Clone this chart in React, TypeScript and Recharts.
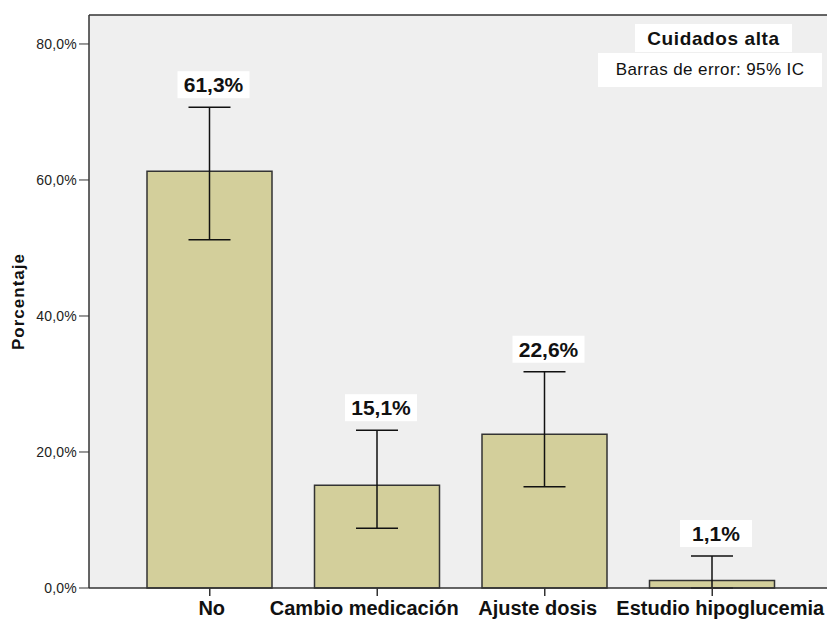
import React from 'react';
import {
  BarChart, Bar, XAxis, YAxis, CartesianGrid, ErrorBar, LabelList, ReferenceLine,
} from 'recharts';

const categories = ['No', 'Cambio medicación', 'Ajuste dosis', 'Estudio hipoglucemia'];
const percentages = [61.3, 15.1, 22.6, 1.1];
const ciLow = [51.2, 8.8, 14.9, 0];
const ciHigh = [70.7, 23.2, 31.8, 4.7];
const yTicks = [0, 20, 40, 60, 80];
const yMax = 84.26;

const data = categories.map((name, i) => ({
  name,
  value: percentages[i],
  err: [percentages[i] - ciLow[i], ciHigh[i] - percentages[i]],
  upper: ciHigh[i],
}));

const font = '"Liberation Sans", Arial, sans-serif';
const fmt = (v: number) => v.toFixed(1).replace('.', ',') + '%';

// small horizontal nudges so the category labels sit like the original
const tickShift = [2, -13, -7, 8];

function CategoryTick(props: any) {
  const { x, y, payload, index } = props;
  return (
    <text x={x + (tickShift[index] || 0)} y={y + 17} textAnchor="middle" fontFamily={font}
      fontWeight="bold" fontSize={20} fill="#111">
      {payload.value}
    </text>
  );
}

function ValueLabel(props: any) {
  const { x, y, width, height, value, index } = props;
  if (!value) return null;
  const perUnit = height / value;
  const base = y + height;
  const top = base - data[index].upper * perUnit;
  const cx = x + width / 2;
  return (
    <g>
      <rect x={cx - 32} y={top - 36} width={72} height={27} fill="#fff" />
      <text x={cx + 4} y={top - 15} textAnchor="middle" fontFamily={font} fontWeight="bold" fontSize={21} fill="#111">
        {fmt(value)}
      </text>
    </g>
  );
}

export default function App() {
  return (
    <div style={{ position: 'relative', width: 827, height: 623, background: '#fff' }}>
      <style>{'body{margin:0}'}</style>
      <BarChart
        width={827}
        height={623}
        data={data}
        margin={{ top: 15, right: 0, bottom: 0, left: 0 }}
        barSize={125}
      >
        <CartesianGrid fill="#efefef" horizontal={false} vertical={false} />
        <XAxis
          dataKey="name"
          height={35}
          padding={{ left: 37, right: 31 }}
          axisLine={{ stroke: '#333', strokeWidth: 1.5 }}
          tickLine={{ stroke: '#333', strokeWidth: 1.5 }}
          tickSize={8}
          tick={<CategoryTick />}
          interval={0}
        />
        <YAxis
          width={89}
          domain={[0, yMax]}
          ticks={yTicks}
          tickFormatter={fmt}
          axisLine={{ stroke: '#333', strokeWidth: 1.5 }}
          tickLine={{ stroke: '#333', strokeWidth: 1 }}
          tickSize={10}
          tick={{ fontFamily: font, fontSize: 14, fill: '#222', letterSpacing: 0.2 }}
          label={{
            value: 'Porcentaje',
            angle: -90,
            position: 'insideLeft',
            offset: 18,
            style: { fontFamily: font, fontWeight: 'bold', fontSize: 17, fill: '#111', textAnchor: 'middle', letterSpacing: 1 },
          }}
        />
        <ReferenceLine y={yMax} stroke="#333" strokeWidth={1.5} />
        <Bar dataKey="value" fill="#d3cf9b" stroke="#333" strokeWidth={1.5} isAnimationActive={false}>
          <ErrorBar dataKey="err" width={21} stroke="#111" strokeWidth={1.5} direction="y" />
          <LabelList dataKey="value" content={<ValueLabel />} />
        </Bar>
      </BarChart>
      <div style={{
        position: 'absolute', left: 635, top: 24, width: 157, height: 28, background: '#fff',
        fontFamily: font, fontWeight: 'bold', fontSize: 19, color: '#111', textAlign: 'center',
        lineHeight: '30px', letterSpacing: 0.6,
      }}>Cuidados alta</div>
      <div style={{
        position: 'absolute', left: 598, top: 53, width: 224, height: 34, background: '#fff',
        fontFamily: font, fontSize: 17, color: '#111', textAlign: 'center', lineHeight: '34px',
        letterSpacing: 0.4,
      }}>Barras de error: 95% IC</div>
    </div>
  );
}
